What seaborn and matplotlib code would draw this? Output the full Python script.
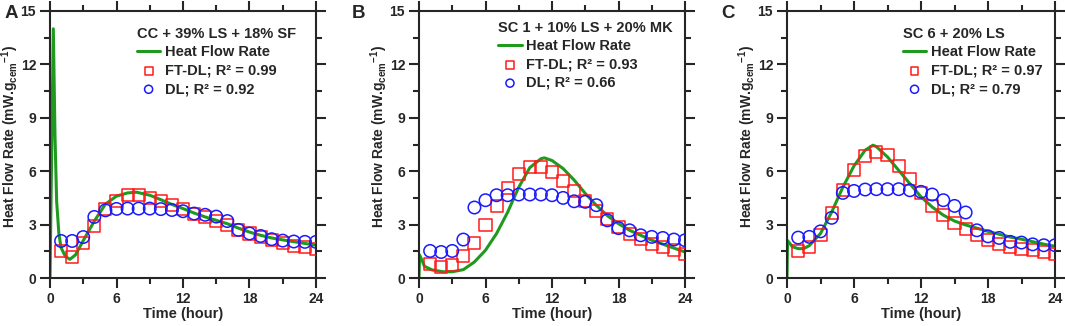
import numpy as np
import pandas as pd
import matplotlib
matplotlib.use("Agg")
import matplotlib.pyplot as plt
import seaborn as sns
from matplotlib.ticker import MultipleLocator

sns.set_style("ticks")
plt.rcParams['font.family'] = ['Liberation Sans', 'DejaVu Sans']
plt.rcParams['font.weight'] = 'bold'
plt.rcParams['mathtext.fontset'] = 'custom'
plt.rcParams['mathtext.rm'] = 'Liberation Sans:bold'
plt.rcParams['mathtext.default'] = 'rm'

hours = list(range(1, 25))

# panel A: CC + 39% LS + 18% SF
a_line_t = [0, 0.3, 0.45, 0.6, 0.8, 1.0, 1.4, 1.8, 2.3, 3, 4, 5, 6, 7, 7.8, 9, 10, 11, 12,
            13, 14, 15, 16, 17, 18, 19, 20, 21, 22, 23, 24]
a_line_v = [0, 14.0, 8.0, 4.3, 2.5, 1.7, 1.2, 1.05, 1.3, 2.1, 3.2, 4.15, 4.6, 4.78, 4.82, 4.65,
            4.4, 4.13, 3.9, 3.65, 3.43, 3.24, 3.05, 2.8, 2.58, 2.4, 2.25, 2.14, 2.04, 1.94, 1.85]
a_ftdl = [1.5, 1.2, 1.95, 2.9, 3.85, 4.35, 4.65, 4.65, 4.52, 4.33, 4.1, 3.9, 3.62, 3.43, 3.21,
          2.96, 2.72, 2.5, 2.31, 2.12, 1.95, 1.82, 1.72, 1.63]
a_dl = [2.08, 2.08, 2.3, 3.43, 3.8, 3.88, 3.9, 3.9, 3.9, 3.87, 3.82, 3.75, 3.62, 3.55, 3.45,
        3.2, 2.7, 2.5, 2.36, 2.18, 2.1, 2.05, 2.03, 2.03]

# panel B: SC 1 + 10% LS + 20% MK
b_line_t = [0, 0.05, 0.5, 1.2, 2.2, 3, 4, 5, 6, 7, 8, 9, 10, 11, 11.3, 12, 13, 14, 15, 16,
            17, 18, 19, 20, 21, 22, 23, 24]
b_line_v = [0, 1.3, 0.65, 0.45, 0.35, 0.35, 0.47, 0.9, 1.56, 2.5, 3.7, 5.1, 6.2, 6.7, 6.75,
            6.6, 6.15, 5.5, 4.75, 4.08, 3.5, 3.05, 2.68, 2.4, 2.12, 1.9, 1.68, 1.46]
b_ftdl = [0.81, 0.62, 0.75, 1.22, 1.99, 3.0, 4.05, 5.08, 5.83, 6.24, 6.24, 5.93, 5.44, 4.88,
          4.31, 3.75, 3.34, 2.87, 2.49, 2.21, 1.93, 1.74, 1.56, 1.37]
b_dl = [1.52, 1.46, 1.52, 2.16, 3.96, 4.37, 4.65, 4.65, 4.69, 4.69, 4.69, 4.65, 4.5, 4.31,
        4.28, 4.09, 3.24, 2.8, 2.68, 2.4, 2.31, 2.25, 2.16, 2.12]

# panel C: SC 6 + 20% LS
c_line_t = [0, 0.05, 0.5, 1.0, 1.5, 2, 3, 4, 5, 6, 7, 7.7, 8, 9, 10, 11, 12, 13, 14, 15, 16,
            17, 18, 19, 20, 21, 22, 23, 24]
c_line_v = [0, 2.1, 1.75, 1.65, 1.65, 1.82, 2.5, 3.7, 5.1, 6.3, 7.18, 7.46, 7.38, 6.8, 6.05,
            5.3, 4.56, 3.99, 3.53, 3.2, 2.98, 2.8, 2.62, 2.46, 2.3, 2.18, 2.04, 1.9, 1.78]
c_ftdl = [1.52, 1.74, 2.44, 3.66, 4.93, 6.09, 6.86, 7.09, 6.9, 6.3, 5.55, 4.78, 4.05, 3.53,
          3.11, 2.74, 2.44, 2.16, 1.93, 1.74, 1.65, 1.56, 1.46, 1.33]
c_dl = [2.27, 2.31, 2.62, 3.38, 4.78, 4.89, 4.97, 4.99, 4.99, 4.99, 4.93, 4.84, 4.69, 4.37,
        4.05, 3.68, 2.68, 2.34, 2.25, 2.03, 1.99, 1.89, 1.84, 1.84]

panels = [
    ("A", "CC + 39% LS + 18% SF", a_line_t, a_line_v, a_ftdl, a_dl, "0.99", "0.92"),
    ("B", "SC 1 + 10% LS + 20% MK", b_line_t, b_line_v, b_ftdl, b_dl, "0.93", "0.66"),
    ("C", "SC 6 + 20% LS", c_line_t, c_line_v, c_ftdl, c_dl, "0.97", "0.79"),
]

W, H = 1065, 326
fig = plt.figure(figsize=(W / 100, H / 100), dpi=100)
# axes boxes in pixels (left, right), panel letter x, legend anchors
ax_px = [(50, 316), (419, 685), (787, 1055)]
letter_px = [5, 352, 721]
legend_anchor = [(0.947, 0.962), (0.977, 0.985), (0.974, 0.962)]
top_px, bottom_px = 11, 278

for (x0, x1), lx, anchor, (letter, title, lt, lv, ftdl, dl, r_ft, r_dl) in zip(
        ax_px, letter_px, legend_anchor, panels):
    ax = fig.add_axes([x0 / W, 1 - bottom_px / H, (x1 - x0) / W, (bottom_px - top_px) / H])
    line_df = pd.DataFrame({'t': lt, 'v': lv})
    pts = pd.DataFrame({'t': hours, 'ftdl': ftdl, 'dl': dl})

    sns.lineplot(data=line_df, x='t', y='v', ax=ax, color='#1f9a1f', lw=2.2,
                 estimator=None, sort=False, label='Heat Flow Rate')
    sns.scatterplot(data=pts, x='t', y='ftdl', ax=ax, marker='s', s=75,
                    facecolor='none', edgecolor='#ff1a1a', linewidth=1.1,
                    label='FT-DL; R² = ' + r_ft, zorder=3)
    sns.scatterplot(data=pts, x='t', y='dl', ax=ax, marker='o', s=80,
                    facecolor='none', edgecolor='#1a1aff', linewidth=1.1,
                    label='DL; R² = ' + r_dl, zorder=4)

    ax.set_xlim(0, 24)
    ax.set_ylim(0, 15)
    ax.xaxis.set_major_locator(MultipleLocator(6))
    ax.xaxis.set_minor_locator(MultipleLocator(3))
    ax.yaxis.set_major_locator(MultipleLocator(3))
    ax.yaxis.set_minor_locator(MultipleLocator(1.5))
    ax.tick_params(which='both', direction='out', width=1.5,
                   top=True, right=True, labelsize=10, pad=2.5)
    ax.tick_params(which='major', length=7.5)
    ax.tick_params(which='minor', length=4)
    plt.setp(ax.get_xticklabels() + ax.get_yticklabels(), fontweight='bold')
    for sp in ax.spines.values():
        sp.set_linewidth(1.5)
        sp.set_visible(True)

    ax.set_xlabel('Time (hour)', fontsize=10.5, fontweight='bold', labelpad=1)
    ax.set_ylabel(r'Heat Flow Rate (mW.g$_{\mathrm{cem}}$$^{\mathrm{-1}}$)',
                  fontsize=10, fontweight='bold')
    ax.yaxis.set_label_coords(-29 / (x1 - x0), 0.53)

    ax.legend(loc='upper right', bbox_to_anchor=anchor, frameon=False, title=title,
              prop={'weight': 'bold', 'size': 10.5},
              title_fontproperties={'weight': 'bold', 'size': 10.5},
              handlelength=1.6, handletextpad=0.3, labelspacing=0.3,
              borderaxespad=0, borderpad=0.4, alignment='left', markerscale=0.65)

    fig.text(lx / W, 1 - 13 / H, letter, fontsize=13.5, fontweight='bold',
             ha='left', va='center')

fig.savefig('out.png', dpi=100)
